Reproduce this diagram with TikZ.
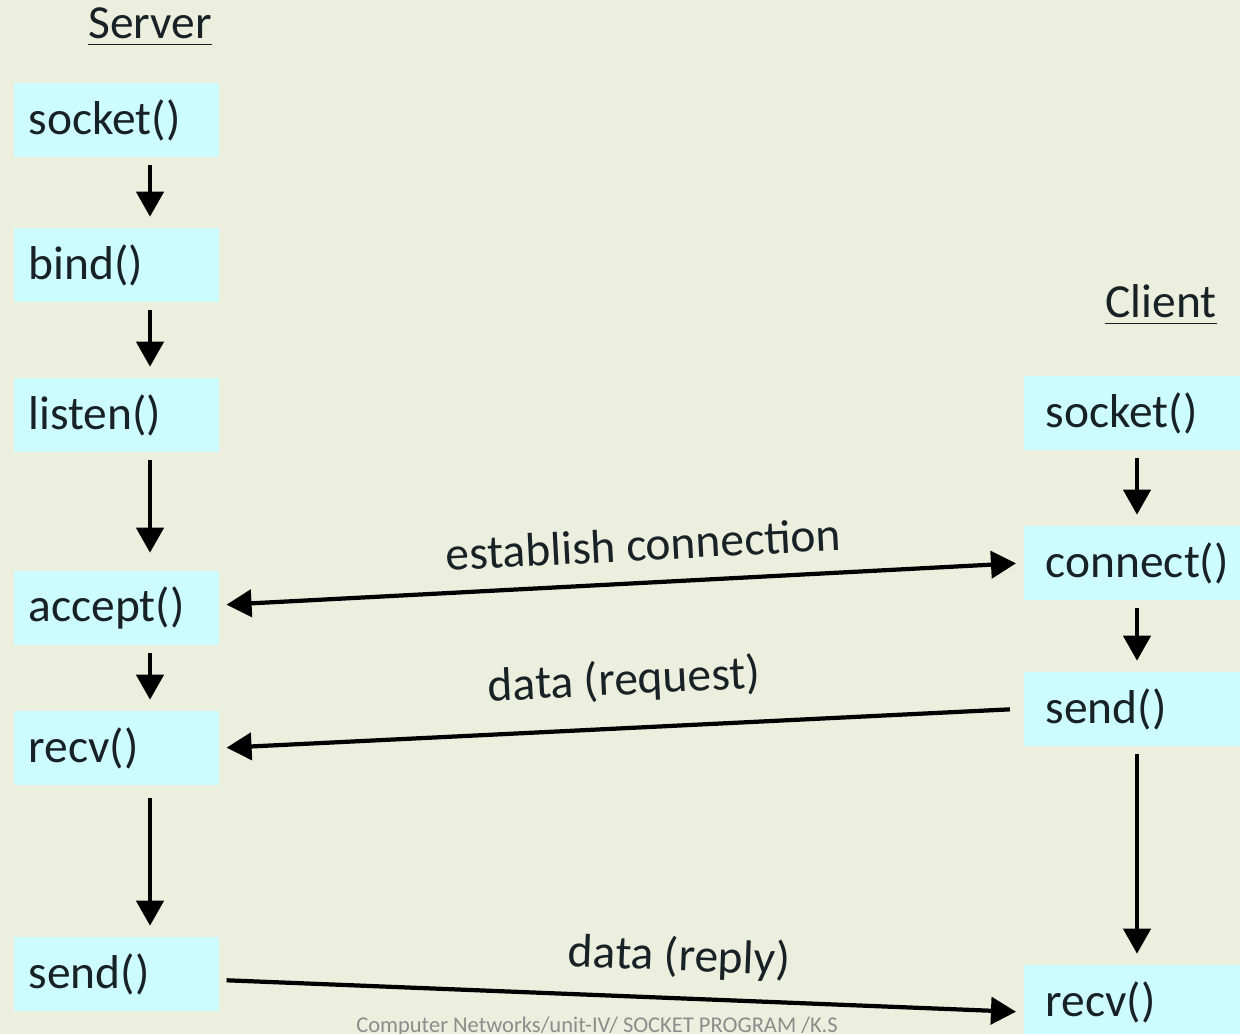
\documentclass[tikz,border=0pt]{standalone}
\usepackage{fontspec}
\setmainfont{Carlito}
\usetikzlibrary{arrows.meta}
\definecolor{paper}{RGB}{236,239,222}
\definecolor{callbox}{RGB}{204,252,255}
\definecolor{ink}{RGB}{24,34,38}
\tikzset{
  srvcall/.style={fill=callbox, anchor=west, minimum height=0.74cm, text width=1.75cm,
    inner xsep=0.15cm, align=left, text=ink, font=\fontsize{13.5}{16}\selectfont},
  clicall/.style={srvcall, text width=1.95cm, inner xsep=0.22cm},
  side/.style={anchor=base, text=ink, font=\fontsize{13.5}{16}\selectfont},
  flow/.style={line width=1.2pt, -{Triangle[length=0.25cm,width=0.27cm]}, shorten <=2pt, shorten >=3pt},
  msg/.style={line width=1.2pt, -{Triangle[length=0.25cm,width=0.27cm]}, shorten <=2pt, shorten >=2pt},
  msglbl/.style={sloped, text=ink, font=\fontsize{13.5}{16}\selectfont}
}
\begin{document}
\begin{tikzpicture}[x=0.01cm,y=-0.01cm]
  \clip (0,0) rectangle (1240,1034);
  \fill[paper] (0,0) rectangle (1240,1034);
  % headings
  \node[side] (srvhead) at (150,39) {\underline{Server}};
  \node[side] (clihead) at (1161,318) {\underline{Client}};
  % server side
  \node[srvcall] (ssock) at (13,120) {socket()};
  \node[srvcall] (sbind) at (13,265) {bind()};
  \node[srvcall] (slisten) at (13,415) {listen()};
  \node[srvcall] (saccept) at (13,608) {accept()};
  \node[srvcall] (srecv) at (13,748) {recv()};
  \node[srvcall] (ssend) at (13,974) {send()};
  % client side
  \node[clicall] (csock) at (1023,413) {socket()};
  \node[clicall] (cconn) at (1023,563) {connect()};
  \node[clicall] (csend) at (1023,709) {send()};
  \node[clicall] (crecv) at (1023,1002) {recv()};
  \coordinate (scol) at (150,0);
  \coordinate (ccol) at (1137,0);
  \draw[flow] (ssock.south -| scol) -- (sbind.north -| scol);
  \draw[flow] (sbind.south -| scol) -- (slisten.north -| scol);
  \draw[flow] (slisten.south -| scol) -- ([yshift=0.07cm]saccept.north -| scol);
  \draw[flow] (saccept.south -| scol) -- (srecv.north -| scol);
  \draw[flow] ([yshift=-0.05cm]srecv.south -| scol) -- (ssend.north -| scol);
  \draw[flow] (csock.south -| ccol) -- (cconn.north -| ccol);
  \draw[flow] (cconn.south -| ccol) -- (csend.north -| ccol);
  \draw[flow] (csend.south -| ccol) -- (crecv.north -| ccol);
  % messages
  \draw[msg, {Triangle[length=0.25cm,width=0.27cm]}-{Triangle[length=0.25cm,width=0.27cm]}]
    ([yshift=0.03cm]saccept.east) -- (cconn.west)
    node[msglbl, pos=0.53, above=0.08cm] {establish connection};
  \draw[msg] ([xshift=-0.06cm]csend.west) -- (srecv.east)
    node[msglbl, pos=0.49, above=0.12cm] {data (request)};
  \draw[msg] ([yshift=-0.06cm]ssend.east) -- ([yshift=-0.1cm]crecv.west)
    node[msglbl, pos=0.57, above=0.06cm] {data (reply)};
  % footer
  \node[anchor=north, inner sep=0pt, text=black!45, font=\fontsize{6.4}{7}\selectfont] (foot) at (597,1016)
    {Computer Networks/unit-IV/ SOCKET PROGRAM /K.S};
\end{tikzpicture}
\end{document}
